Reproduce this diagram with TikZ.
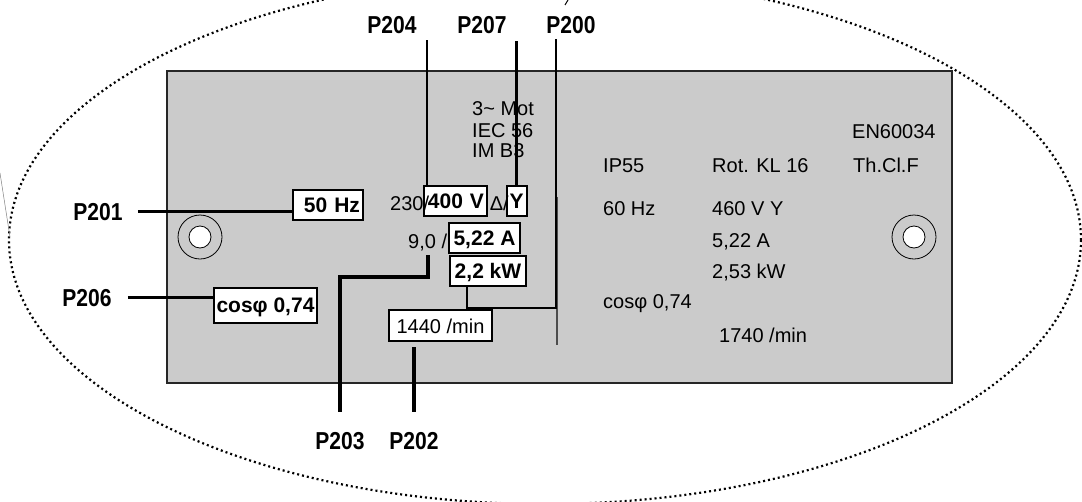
\documentclass[tikz,border=0pt]{standalone}
\usepackage{fontspec}
\setmainfont{Liberation Sans}
\newfontfamily\tagfont[FakeStretch=0.86]{Liberation Sans}
\definecolor{plategray}{HTML}{CBCBCB}
\begin{document}
\begin{tikzpicture}[x=1pt, y=-1pt,
    plate text/.style={anchor=base west, inner sep=0pt, font=\fontsize{20}{24}\selectfont},
    tag/.style={anchor=base, inner sep=0pt, font=\tagfont\bfseries\fontsize{24.5}{28}\selectfont},
    databox/.style={draw, line width=2pt, fill=white, inner xsep=3pt, inner ysep=0pt, minimum height=30pt,
        text height=15pt, text depth=0pt, font=\bfseries\fontsize{21}{24}\selectfont},
    lead/.style={line width=3.2pt}]
    \useasboundingbox (0,0) rectangle (1082,501);
    \clip (0,0) rectangle (1082,501);

    % Dotted outline round the plate
    \draw[line width=2.2pt, dash pattern=on 2pt off 3pt] (545,240) ellipse [x radius=536, y radius=264];
    \draw[gray, line width=0.5pt] (0,173) -- (10,237);
    \draw[line width=1pt] (565,5) -- (568,0);

    % Plate
    \draw[fill=plategray, draw=gray!30!black, line width=1.5pt] (167,71) rectangle (952,383);
    \foreach \hx in {200,914} {
        \draw[line width=0.8pt] (\hx,237) circle (22);
        \draw[line width=0.8pt, fill=white] (\hx,237) circle (11);
    }
    \draw[gray!60!black, line width=1.3pt] (557,197) -- (557,345);

    % Printed data on the plate
    \node[plate text] (mot) at (472,115) {3\textasciitilde{} Mot};
    \node[plate text] (iec) at (472,137) {IEC 56};
    \node[plate text] (imb) at (472,157) {IM B3};
    \node[plate text] (norm) at (852,138) {EN60034};
    \node[plate text] (ip) at (603,172) {IP55};
    \node[plate text] (rot) at (712,172) {Rot. KL 16};
    \node[plate text] (thcl) at (853,172) {Th.Cl.F};
    \node[plate text] (hzb) at (603,215) {60 Hz};
    \node[plate text] (voltb) at (712,215) {460 V Y};
    \node[plate text] (ampb) at (712,247) {5,22 A};
    \node[plate text] (kwb) at (712,278) {2,53 kW};
    \node[plate text] (cosb) at (603,308) {cosφ 0,74};
    \node[plate text] (rpmb) at (719,342) {1740 /min};
    \node[plate text] (amplow) at (408,248) {9,0 /};

    % Parameter tags
    \node[tag] (p201) at (98,220) {P201};
    \node[tag] (p206) at (87,306) {P206};
    \node[tag] (p204) at (392,33) {P204};
    \node[tag] (p207) at (482,33) {P207};
    \node[tag] (p200) at (571,33) {P200};
    \node[tag] (p203) at (340,449) {P203};
    \node[tag] (p202) at (414,449) {P202};

    % Leads
    \draw[lead, line width=3.6pt, shorten <=15pt] (p201.east) -- (p201.east -| 293,0);
    \draw[lead, shorten <=16pt] (p206.east) -- (p206.east -| 215,0);
    \draw[lead, line width=2.2pt, shorten >=7pt] (427,186) -- (427,186 |- p204.south);
    \draw[lead, shorten >=8pt] (516.5,186) -- (516.5,186 |- p207.south);
    \coordinate (bend200) at (556,308);
    \draw[lead, line width=2.7pt, shorten <=6pt] (p200.south -| bend200) -- (bend200) -| (467,286);
    \coordinate (bend203) at (428,277);
    \draw[lead, shorten <=20pt, shorten >=4pt] (p203.north) |- (bend203) -- (bend203 |- amplow.south);

    % Boxed values
    \node[databox, text width=64pt, align=right] (hz) at (328,205) {50 Hz};
    \node[databox, text width=57pt, align=right] (volt) at (455.5,201) {400 V};
    \node[databox, minimum width=19pt] (star) at (516.5,201) {Y};
    \node[databox, minimum width=71pt] (amp) at (484.5,238) {5,22 A};
    \node[databox, minimum width=76pt] (kw) at (488,271) {2,2 kW};
    \node[databox, minimum width=101pt, minimum height=35pt] (cosphi) at (265.5,305) {cosφ 0,74};
    \node[databox, minimum width=103pt, minimum height=31pt, font=\fontsize{20}{24}\selectfont] (rpm) at (440.5,325.5) {1440 /min};
    \draw[lead, shorten <=20pt, shorten >=5pt] (p202.north) -- (p202.north |- rpm.south);

    \node[plate text] (low) at (390,210) {230/};
    \node[plate text, anchor=base east] (delta) at (509,210) {Δ/};
\end{tikzpicture}
\end{document}
